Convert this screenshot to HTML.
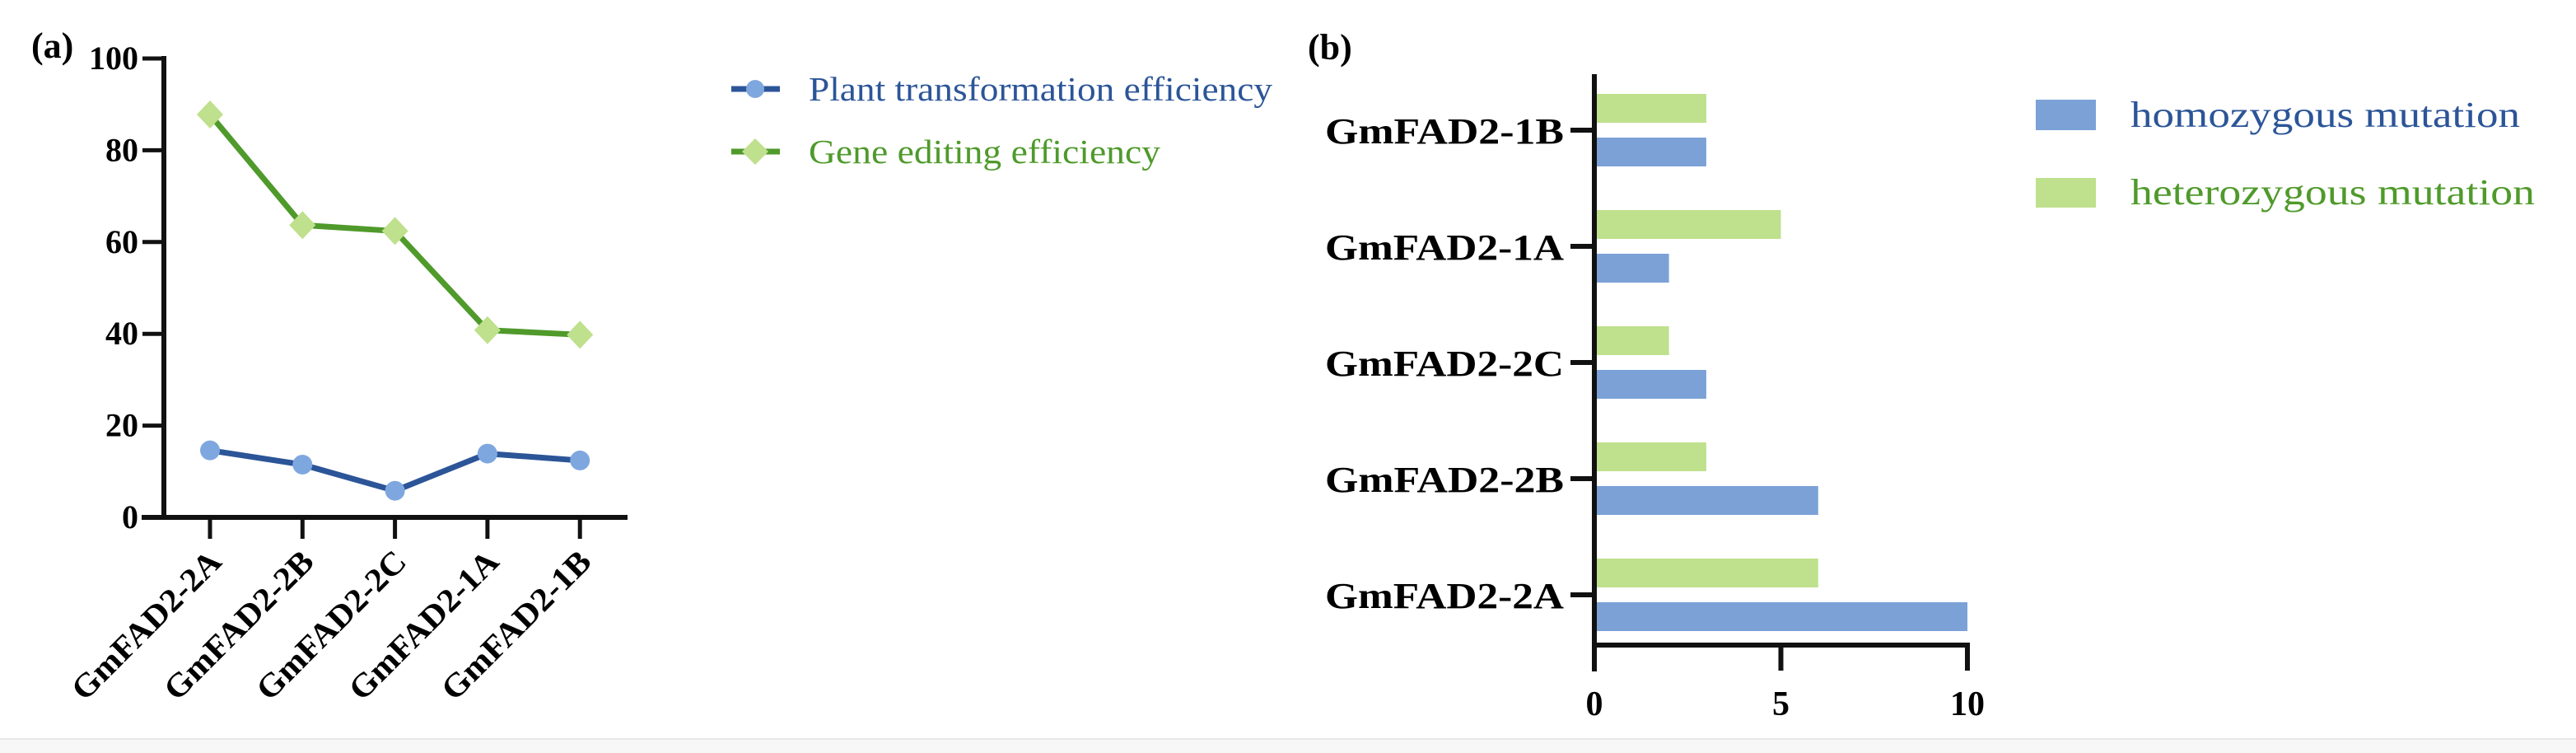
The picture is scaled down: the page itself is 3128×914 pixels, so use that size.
<!DOCTYPE html>
<html><head><meta charset="utf-8"><style>
html,body{margin:0;padding:0;background:#fff;}
svg{display:block;}
text{font-family:"Liberation Serif",serif;}
</style></head><body>
<svg id="fig" width="3128" height="914" xmlns="http://www.w3.org/2000/svg">
<rect x="0" y="897" width="3128" height="17" fill="#f7f7f7"/>
<line x1="0" y1="897" x2="3128" y2="897" stroke="#e8e8e8" stroke-width="2"/>
<text x="38" y="70" font-size="44" font-weight="bold">(a)</text>
<text x="1588" y="72" font-size="44" font-weight="bold">(b)</text>
<g id="pa"></g>
<g id="pb"></g>
</svg>
<script>
const NS="http://www.w3.org/2000/svg";
// Panel (a) data
const catsA=["GmFAD2-2A","GmFAD2-2B","GmFAD2-2C","GmFAD2-1A","GmFAD2-1B"];
const plantEff=[14.6,11.5,5.8,13.9,12.4];
const editEff=[87.8,63.7,62.4,40.8,39.8];
const yTicksA=[0,20,40,60,80,100];
// Panel (b) data
const catsB=["GmFAD2-1B","GmFAD2-1A","GmFAD2-2C","GmFAD2-2B","GmFAD2-2A"];
const homo=[3,2,3,6,10];
const hetero=[3,5,2,3,6];
const xTicksB=[0,5,10];

function mk(tag,attrs,parent){const e=document.createElementNS(NS,tag);for(const k in attrs)e.setAttribute(k,attrs[k]);parent.appendChild(e);return e;}

// ---- Panel A
const pa=document.getElementById('pa');
const yA=v=>628-v*(628-71)/100;
const xA=i=>255+i*112.3;
mk('line',{x1:199,y1:68,x2:199,y2:630,stroke:'#111','stroke-width':6},pa);
mk('line',{x1:172,y1:628,x2:762,y2:628,stroke:'#111','stroke-width':6},pa);
yTicksA.forEach(v=>{
  const t=mk('line',{x1:173,y1:yA(v),x2:199,y2:yA(v),stroke:'#111','stroke-width':5},pa);
  
  
  const l=mk('text',{x:168,y:yA(v)+13,'font-size':40,'font-weight':'bold','text-anchor':'end'},pa);
  l.textContent=v;
  
  
});
catsA.forEach((c,i)=>{
  const t=mk('line',{x1:xA(i),y1:628,x2:xA(i),y2:654,stroke:'#111','stroke-width':5},pa);
  
  
  const x=xA(i)+16,y=684;
  const l=mk('text',{x:x,y:y,'font-size':40,'font-weight':'bold','text-anchor':'end',textLength:238,lengthAdjust:'spacingAndGlyphs',transform:`rotate(-45 ${x} ${y})`},pa);
  l.textContent=c;
  
  
});
function series(vals,lineCol,mCol,shape,name){
  const pts=vals.map((v,i)=>xA(i)+','+yA(v)).join(' ');
  const pl=mk('polyline',{points:pts,fill:'none',stroke:lineCol,'stroke-width':7,'stroke-linejoin':'round'},pa);
  
  
  vals.forEach((v,i)=>{
    const cx=xA(i),cy=yA(v);
    let m;
    if(shape==='circle')m=mk('circle',{cx:cx,cy:cy,r:12,fill:mCol},pa);
    else m=mk('polygon',{points:`${cx},${cy-17} ${cx+16},${cy} ${cx},${cy+17} ${cx-16},${cy}`,fill:mCol},pa);
    
    
  });
}
series(editEff,'#4f9a2b','#bfe08c','diamond','gene-editing');
series(plantEff,'#2c5598','#7fa7df','circle','plant-transformation');
// legend A
const lg1=mk('g',{},pa);
mk('line',{x1:888,y1:108,x2:947,y2:108,stroke:'#2c5598','stroke-width':7},lg1);
mk('circle',{cx:917,cy:108,r:11,fill:'#7fa7df'},lg1);
mk('text',{x:982,y:122,'font-size':41,fill:'#2c5598',textLength:563,lengthAdjust:'spacingAndGlyphs'},lg1).textContent='Plant transformation efficiency';
const lg2=mk('g',{},pa);
mk('line',{x1:888,y1:184,x2:947,y2:184,stroke:'#4f9a2b','stroke-width':7},lg2);
mk('polygon',{points:'917,168 933,184 917,200 901,184',fill:'#bfe08c'},lg2);
mk('text',{x:982,y:198,'font-size':41,fill:'#4f9a2b',textLength:427,lengthAdjust:'spacingAndGlyphs'},lg2).textContent='Gene editing efficiency';

// ---- Panel B
const pb=document.getElementById('pb');
const xB=v=>1936+v*45.3;
const yB=i=>158+i*141;
const bh=35;
catsB.forEach((c,i)=>{
  const g=mk('rect',{x:xB(0),y:yB(i)-44,width:xB(hetero[i])-xB(0),height:bh,fill:'#bfe08c'},pb);
  
  
  const b=mk('rect',{x:xB(0),y:yB(i)+9,width:xB(homo[i])-xB(0),height:bh,fill:'#7ba1d7'},pb);
  
  
  const t=mk('line',{x1:1907,y1:yB(i),x2:1936,y2:yB(i),stroke:'#111','stroke-width':6},pb);
  
  
  const l=mk('text',{x:1899,y:yB(i)+16,'font-size':44,'font-weight':'bold','text-anchor':'end',textLength:290,lengthAdjust:'spacingAndGlyphs'},pb);
  l.textContent=c;
  
  
});
mk('line',{x1:1936,y1:90,x2:1936,y2:815,stroke:'#111','stroke-width':6},pb);
mk('line',{x1:1933,y1:783,x2:2392,y2:783,stroke:'#111','stroke-width':6},pb);
xTicksB.forEach(v=>{
  const t=mk('line',{x1:xB(v),y1:783,x2:xB(v),y2:814,stroke:'#111','stroke-width':6},pb);
  
  
  const l=mk('text',{x:xB(v),y:868,'font-size':42,'font-weight':'bold','text-anchor':'middle'},pb);
  l.textContent=v;
  
  
});
const lb1=mk('g',{},pb);
mk('rect',{x:2472,y:121,width:73,height:37,fill:'#7ba1d7'},lb1);
mk('text',{x:2587,y:154,'font-size':44,fill:'#2c5598',textLength:473,lengthAdjust:'spacingAndGlyphs'},lb1).textContent='homozygous mutation';
const lb2=mk('g',{},pb);
mk('rect',{x:2472,y:216,width:73,height:36,fill:'#bfe08c'},lb2);
mk('text',{x:2587,y:248,'font-size':44,fill:'#4f9a2b',textLength:491,lengthAdjust:'spacingAndGlyphs'},lb2).textContent='heterozygous mutation';
</script>
</body></html>
